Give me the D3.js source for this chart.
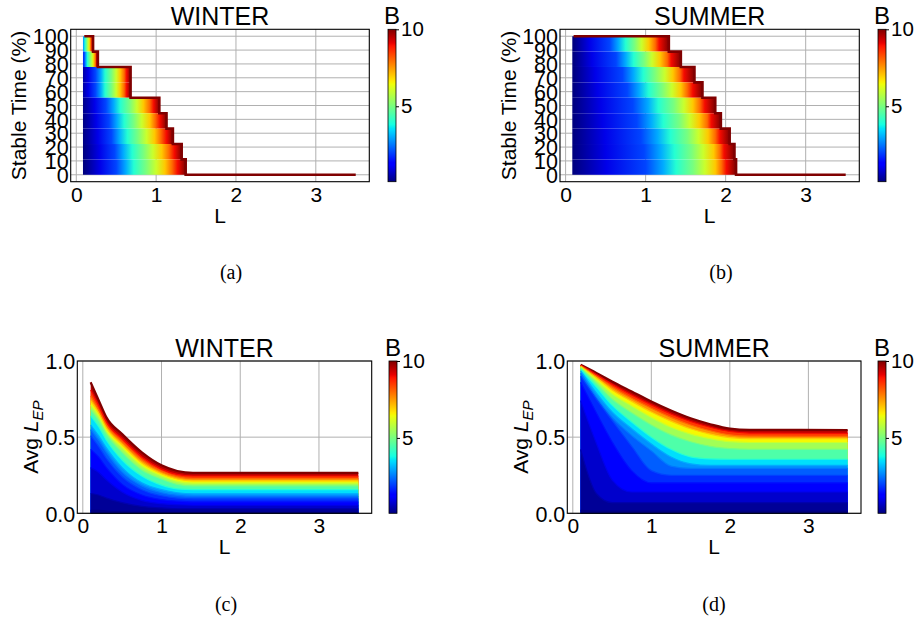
<!DOCTYPE html>
<html>
<head>
<meta charset="utf-8">
<script src="https://cdn.jsdelivr.net/npm/d3@7"></script>
<style>
  body { margin: 0; background: #fff; }
  svg text { font-family: "Liberation Sans", Arial, sans-serif; fill: #000; }
  svg text.cap { font-family: "Liberation Serif", "Times New Roman", serif; }
</style>
</head>
<body>
<svg id="fig" width="917" height="620"></svg>
<script>
// ---------------- data ----------------

// L runs from 0.1 to 3.5 in every panel
var lMin = 0.1;
var lMax = 3.5;

// stable time levels (multiples of 1/9)
var stableLevels = [100, 88.9, 77.8, 66.7, 55.6, 44.4, 33.3, 22.2, 11.1, 0];

// B values used as colour stops inside each stable-time block
var bStops = [0.1, 1, 2, 3, 4, 5, 6, 7, 8, 9, 10];

// winter: for each block (top level 100 ... 11.1), L where the line of each B drops below it
var winterDrop = [
  [0.02, 0.05, 0.08, 0.09, 0.11, 0.13, 0.15, 0.17, 0.18, 0.20, 0.21],
  [0.02, 0.06, 0.10, 0.12, 0.14, 0.17, 0.20, 0.22, 0.24, 0.25, 0.27],
  [0.05, 0.15, 0.24, 0.31, 0.36, 0.44, 0.50, 0.55, 0.60, 0.63, 0.68],
  [0.05, 0.15, 0.24, 0.31, 0.36, 0.44, 0.50, 0.55, 0.60, 0.63, 0.68],
  [0.07, 0.23, 0.37, 0.47, 0.55, 0.67, 0.76, 0.84, 0.92, 0.97, 1.04],
  [0.08, 0.25, 0.41, 0.51, 0.60, 0.72, 0.82, 0.92, 0.99, 1.05, 1.13],
  [0.08, 0.27, 0.44, 0.54, 0.64, 0.77, 0.88, 0.98, 1.06, 1.13, 1.21],
  [0.09, 0.29, 0.48, 0.59, 0.70, 0.84, 0.96, 1.07, 1.16, 1.23, 1.32],
  [0.10, 0.30, 0.50, 0.62, 0.72, 0.87, 1.00, 1.11, 1.20, 1.27, 1.37]
];

// summer: same layout
var summerDrop = [
  [0.10, 0.30, 0.55, 0.66, 0.75, 0.86, 0.95, 1.04, 1.12, 1.17, 1.29],
  [0.10, 0.33, 0.63, 0.75, 0.85, 0.98, 1.08, 1.18, 1.27, 1.32, 1.44],
  [0.10, 0.37, 0.71, 0.85, 0.97, 1.11, 1.24, 1.34, 1.43, 1.48, 1.61],
  [0.10, 0.40, 0.77, 0.92, 1.04, 1.20, 1.33, 1.44, 1.52, 1.59, 1.71],
  [0.10, 0.44, 0.84, 1.03, 1.16, 1.35, 1.48, 1.59, 1.68, 1.74, 1.87],
  [0.10, 0.46, 0.89, 1.07, 1.22, 1.42, 1.55, 1.67, 1.77, 1.82, 1.94],
  [0.10, 0.49, 0.94, 1.15, 1.31, 1.52, 1.66, 1.78, 1.87, 1.93, 2.05],
  [0.10, 0.50, 0.98, 1.19, 1.36, 1.57, 1.72, 1.85, 1.93, 1.98, 2.11],
  [0.10, 0.51, 1.00, 1.22, 1.38, 1.59, 1.74, 1.87, 1.95, 2.01, 2.13]
];

// Avg L_EP curves, one row per B (largest first)
var lepB = [10, 9, 8, 7, 6, 5, 4, 3, 2.5, 2, 1.5, 1, 0.5, 0.1];

var winterL = [0.1, 0.2, 0.3, 0.5, 0.75, 1.0, 1.2, 1.4, 3.5];
var winterLep = [
  [0.86, 0.745, 0.63, 0.52, 0.40, 0.315, 0.278, 0.266, 0.266],
  [0.81, 0.71, 0.60, 0.49, 0.37, 0.29, 0.255, 0.245, 0.245],
  [0.77, 0.68, 0.58, 0.47, 0.35, 0.275, 0.24, 0.228, 0.228],
  [0.74, 0.66, 0.56, 0.45, 0.33, 0.26, 0.225, 0.213, 0.213],
  [0.71, 0.64, 0.54, 0.43, 0.31, 0.245, 0.21, 0.198, 0.198],
  [0.68, 0.61, 0.52, 0.40, 0.285, 0.225, 0.19, 0.18, 0.18],
  [0.64, 0.57, 0.48, 0.35, 0.245, 0.185, 0.16, 0.155, 0.155],
  [0.58, 0.51, 0.43, 0.30, 0.20, 0.155, 0.135, 0.128, 0.128],
  [0.55, 0.48, 0.40, 0.27, 0.18, 0.135, 0.118, 0.112, 0.112],
  [0.51, 0.44, 0.36, 0.24, 0.155, 0.115, 0.10, 0.095, 0.095],
  [0.42, 0.37, 0.30, 0.19, 0.12, 0.09, 0.08, 0.075, 0.075],
  [0.30, 0.27, 0.22, 0.14, 0.085, 0.063, 0.056, 0.053, 0.053],
  [0.13, 0.12, 0.10, 0.07, 0.045, 0.035, 0.03, 0.03, 0.03],
  [0.02, 0.02, 0.015, 0.01, 0.008, 0.006, 0.006, 0.006, 0.006]
];

var summerL = [0.1, 0.3, 0.5, 0.75, 1.0, 1.25, 1.5, 1.75, 2.0, 2.25, 3.5];
var summerLep = [
  [0.975, 0.922, 0.866, 0.80, 0.734, 0.675, 0.624, 0.585, 0.556, 0.548, 0.547],
  [0.972, 0.912, 0.848, 0.777, 0.712, 0.652, 0.603, 0.565, 0.537, 0.527, 0.525],
  [0.968, 0.90, 0.83, 0.755, 0.69, 0.63, 0.58, 0.542, 0.515, 0.507, 0.505],
  [0.965, 0.89, 0.81, 0.735, 0.665, 0.605, 0.555, 0.52, 0.497, 0.49, 0.49],
  [0.96, 0.875, 0.785, 0.705, 0.63, 0.565, 0.52, 0.49, 0.47, 0.465, 0.465],
  [0.955, 0.855, 0.75, 0.66, 0.58, 0.515, 0.47, 0.44, 0.425, 0.42, 0.42],
  [0.945, 0.83, 0.71, 0.60, 0.50, 0.42, 0.37, 0.357, 0.355, 0.355, 0.355],
  [0.935, 0.79, 0.665, 0.555, 0.455, 0.37, 0.325, 0.315, 0.315, 0.315, 0.315],
  [0.92, 0.76, 0.63, 0.51, 0.41, 0.31, 0.295, 0.295, 0.295, 0.295, 0.295],
  [0.90, 0.75, 0.61, 0.44, 0.28, 0.25, 0.25, 0.25, 0.25, 0.25, 0.25],
  [0.86, 0.66, 0.47, 0.28, 0.20, 0.20, 0.20, 0.20, 0.20, 0.20, 0.20],
  [0.74, 0.46, 0.22, 0.14, 0.14, 0.14, 0.14, 0.14, 0.14, 0.14, 0.14],
  [0.42, 0.13, 0.07, 0.07, 0.07, 0.07, 0.07, 0.07, 0.07, 0.07, 0.07],
  [0.02, 0.015, 0.015, 0.015, 0.015, 0.015, 0.015, 0.015, 0.015, 0.015, 0.015]
];

// tick labels
var lTicks = [0, 1, 2, 3];
var stableTicks = [0, 10, 20, 30, 40, 50, 60, 70, 80, 90, 100];
var lepTicks = [0, 0.5, 1.0];
var bTicks = [5, 10];

// ---------------- set up ----------------

var svg = d3.select('#fig');
var defs = svg.append('defs');

// matplotlib jet colormap
var jetR = d3.scaleLinear().domain([0, 0.35, 0.66, 0.89, 1]).range([0, 0, 1, 1, 0.5]).clamp(true);
var jetG = d3.scaleLinear().domain([0, 0.125, 0.375, 0.64, 0.91, 1]).range([0, 0, 1, 1, 0, 0]).clamp(true);
var jetBl = d3.scaleLinear().domain([0, 0.11, 0.34, 0.65, 1]).range([0.5, 1, 1, 0, 0]).clamp(true);
var bNorm = d3.scaleLinear().domain([0.1, 10]).range([0, 1]).clamp(true);

function jet(b) {
  var t = bNorm(b);
  return d3.rgb(jetR(t) * 255, jetG(t) * 255, jetBl(t) * 255).formatHex();
}

// colorbar gradient
var cbGrad = defs.append('linearGradient').attr('id', 'cbgrad')
  .attr('x1', 0).attr('y1', 1).attr('x2', 0).attr('y2', 0);
cbGrad.selectAll('stop')
  .data([0, 0.11, 0.125, 0.34, 0.35, 0.375, 0.5, 0.64, 0.65, 0.66, 0.89, 0.91, 1])
  .join('stop')
  .attr('offset', d => d)
  .attr('stop-color', d => jet(bNorm.invert(d)));

// panel boxes
var panels = [
  {id: 'a', left: 70.7, right: 369.3, top: 29.3, bottom: 181.7, cb: 388, title: 'WINTER',
   kind: 'stable', drop: winterDrop, ylabX: 18.3, capX: 231, capY: 279},
  {id: 'b', left: 560, right: 859.3, top: 29.3, bottom: 181.7, cb: 878, title: 'SUMMER',
   kind: 'stable', drop: summerDrop, ylabX: 508.3, capX: 721, capY: 279},
  {id: 'c', left: 77.3, right: 371.7, top: 361, bottom: 513.3, cb: 389, title: 'WINTER',
   kind: 'lep', knots: winterL, lep: winterLep, ylabX: 31, capX: 226, capY: 611},
  {id: 'd', left: 567.3, right: 861, top: 361, bottom: 513.3, cb: 878, title: 'SUMMER',
   kind: 'lep', knots: summerL, lep: summerLep, ylabX: 521, capX: 714, capY: 611}
];

var gridColor = '#b0b0b0';

// ---------------- drawing ----------------

function drawGrid(g, p, x, y, yTicks) {
  g.append('g').selectAll('line')
    .data(lTicks)
    .join('line')
    .attr('x1', d => x(d)).attr('x2', d => x(d))
    .attr('y1', p.top).attr('y2', p.bottom)
    .attr('stroke', gridColor).attr('stroke-width', 1);
  g.append('g').selectAll('line')
    .data(yTicks)
    .join('line')
    .attr('x1', p.left).attr('x2', p.right)
    .attr('y1', d => y(d)).attr('y2', d => y(d))
    .attr('stroke', gridColor).attr('stroke-width', 1);
}

function drawStable(g, p, x, y) {
  // each block between two levels is filled by the drops of all B lines
  p.drop.forEach(function(row, k) {
    var gid = 'grad' + p.id + k;
    var x1 = x(row[0]);
    var x2 = x(row[row.length - 1]);
    var grad = defs.append('linearGradient').attr('id', gid)
      .attr('gradientUnits', 'userSpaceOnUse')
      .attr('x1', x1).attr('x2', x2).attr('y1', 0).attr('y2', 0);
    grad.selectAll('stop')
      .data(row)
      .join('stop')
      .attr('offset', d => (x(d) - x1) / (x2 - x1))
      .attr('stop-color', (d, i) => jet(bStops[i]));
    g.append('rect')
      .attr('x', x(lMin) - 1.3)
      .attr('width', x2 - x(lMin) + 1.3)
      .attr('y', y(stableLevels[k]))
      .attr('height', y(stableLevels[k + 1]) - y(stableLevels[k]))
      .attr('fill', 'url(#' + gid + ')');
  });

  // outermost line, B = 10
  var pts = [[lMin, stableLevels[0]]];
  p.drop.forEach(function(row, k) {
    var e = row[row.length - 1];
    pts.push([e, stableLevels[k]], [e, stableLevels[k + 1]]);
  });
  pts.push([lMax, 0]);

  var line = d3.line().x(d => x(d[0])).y(d => y(d[1]));
  g.append('path')
    .attr('d', line(pts))
    .attr('fill', 'none')
    .attr('stroke', jet(10))
    .attr('stroke-width', 2.6);
}

function drawLep(g, p, x, y) {
  var area = d3.area()
    .x(d => x(d[0]))
    .y0(y(0))
    .y1(d => y(d[1]))
    .curve(d3.curveMonotoneX);
  var line = d3.line()
    .x(d => x(d[0]))
    .y(d => y(d[1]))
    .curve(d3.curveMonotoneX);

  p.lep.forEach(function(row, i) {
    var pts = p.knots.map((L, j) => [L, row[j]]);
    var bHere = lepB[i];
    var bBelow = i + 1 < lepB.length ? lepB[i + 1] : bHere;
    g.append('path')
      .attr('d', area(pts))
      .attr('fill', jet((bHere + bBelow) / 2));
    g.append('path')
      .attr('d', line(pts))
      .attr('fill', 'none')
      .attr('stroke', jet(bHere))
      .attr('stroke-width', i == 0 ? 2.2 : 1.2);
  });
}

function styleAxis(ax, size) {
  ax.select('.domain').remove();
  ax.attr('font-family', null);
  ax.selectAll('text').attr('font-size', size);
  ax.selectAll('line').attr('stroke', '#000');
}

panels.forEach(function(p) {
  var g = svg.append('g');

  var x = d3.scaleLinear().domain([-0.07, 3.67]).range([p.left, p.right]);
  var y, yTicks, yFmt;
  if (p.kind == 'stable') {
    y = d3.scaleLinear().domain([-5, 105]).range([p.bottom, p.top]);
    yTicks = stableTicks;
    yFmt = d3.format('d');
  } else {
    y = d3.scaleLinear().domain([0, 1]).range([p.bottom, p.top]);
    yTicks = lepTicks;
    yFmt = d3.format('.1f');
  }

  drawGrid(g, p, x, y, yTicks);

  if (p.kind == 'stable') {
    drawStable(g, p, x, y);
  } else {
    drawLep(g, p, x, y);
  }

  // frame
  g.append('rect')
    .attr('x', p.left).attr('y', p.top)
    .attr('width', p.right - p.left).attr('height', p.bottom - p.top)
    .attr('fill', 'none').attr('stroke', '#000').attr('stroke-width', 1.1);

  // axes
  var xAxis = g.append('g')
    .attr('transform', `translate(0, ${p.bottom})`)
    .call(d3.axisBottom(x).tickValues(lTicks).tickSize(0).tickPadding(5).tickFormat(d3.format('d')));
  styleAxis(xAxis, 21);

  var yAxis = g.append('g')
    .attr('transform', `translate(${p.left}, 0)`)
    .call(d3.axisLeft(y).tickValues(yTicks).tickSize(0).tickPadding(2).tickFormat(yFmt));
  styleAxis(yAxis, 21.5);
  yAxis.selectAll('text').attr('dy', '0.36em');

  // title and labels
  g.append('text')
    .attr('x', (p.left + p.right) / 2).attr('y', p.top - 4.5)
    .attr('text-anchor', 'middle').attr('font-size', 25)
    .text(p.title);

  g.append('text')
    .attr('x', (p.left + p.right) / 2).attr('y', p.bottom + 41)
    .attr('text-anchor', 'middle').attr('font-size', 21)
    .text('L');

  var ylab = g.append('text')
    .attr('transform', `translate(${p.ylabX}, ${(p.top + p.bottom) / 2}) rotate(-90)`)
    .attr('text-anchor', 'middle').attr('dy', '0.35em').attr('font-size', 21);
  if (p.kind == 'stable') {
    ylab.text('Stable Time (%)');
  } else {
    ylab.append('tspan').text('Avg ');
    ylab.append('tspan').attr('font-style', 'italic').text('L');
    ylab.append('tspan').attr('font-style', 'italic').attr('font-size', 15).attr('dy', 5).text('EP');
  }

  // colorbar
  var cbScale = d3.scaleLinear().domain([0.1, 10]).range([p.bottom, p.top]);
  g.append('rect')
    .attr('x', p.cb).attr('y', p.top)
    .attr('width', 8).attr('height', p.bottom - p.top)
    .attr('fill', 'url(#cbgrad)')
    .attr('stroke', '#000').attr('stroke-width', 0.8);
  var cbAxis = g.append('g')
    .attr('transform', `translate(${p.cb + 8}, 0)`)
    .call(d3.axisRight(cbScale).tickValues(bTicks).tickSize(3).tickPadding(2));
  styleAxis(cbAxis, 20.5);

  g.append('text')
    .attr('x', p.cb + 4).attr('y', p.top - 5)
    .attr('text-anchor', 'middle').attr('font-size', 24)
    .text('B');

  // sub-figure caption
  g.append('text')
    .attr('class', 'cap')
    .attr('x', p.capX).attr('y', p.capY)
    .attr('text-anchor', 'middle').attr('font-size', 20)
    .text('(' + p.id + ')');
});
</script>
</body>
</html>
